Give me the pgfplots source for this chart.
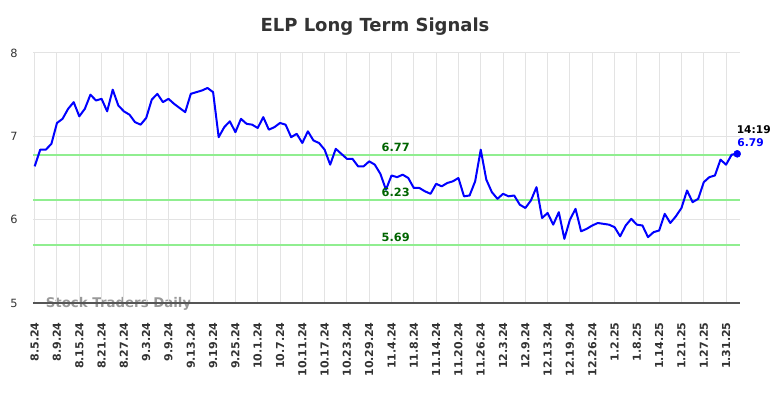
\documentclass[border=0pt]{standalone}
\usepackage{fontspec}
\setmainfont{DejaVu Sans}
\usepackage{pgfplots}
\usepackage{pgfplotstable}
\pgfplotsset{compat=1.18}
\definecolor{lvl}{HTML}{90EE90}
\definecolor{lvltext}{HTML}{006400}
\definecolor{gridc}{HTML}{E3E3E3}
\definecolor{txt}{HTML}{333333}
\definecolor{wm}{HTML}{999999}
\pgfplotstableread{
i v
0 6.64
1 6.84
2 6.84
3 6.91
4 7.16
5 7.21
6 7.33
7 7.41
8 7.24
9 7.33
10 7.50
11 7.43
12 7.45
13 7.30
14 7.56
15 7.37
16 7.30
17 7.26
18 7.17
19 7.14
20 7.22
21 7.44
22 7.51
23 7.41
24 7.45
25 7.39
26 7.34
27 7.29
28 7.51
29 7.53
30 7.55
31 7.58
32 7.53
33 6.99
34 7.11
35 7.18
36 7.05
37 7.21
38 7.15
39 7.14
40 7.10
41 7.23
42 7.08
43 7.11
44 7.16
45 7.14
46 6.99
47 7.03
48 6.92
49 7.06
50 6.95
51 6.92
52 6.84
53 6.66
54 6.85
55 6.79
56 6.73
57 6.73
58 6.64
59 6.64
60 6.70
61 6.66
62 6.55
63 6.36
64 6.53
65 6.51
66 6.54
67 6.50
68 6.38
69 6.38
70 6.34
71 6.31
72 6.43
73 6.40
74 6.44
75 6.46
76 6.50
77 6.28
78 6.29
79 6.46
80 6.84
81 6.48
82 6.33
83 6.25
84 6.31
85 6.28
86 6.29
87 6.18
88 6.14
89 6.23
90 6.39
91 6.02
92 6.08
93 5.94
94 6.09
95 5.77
96 6.00
97 6.13
98 5.86
99 5.89
100 5.93
101 5.96
102 5.95
103 5.94
104 5.91
105 5.80
106 5.93
107 6.01
108 5.94
109 5.93
110 5.79
111 5.85
112 5.87
113 6.07
114 5.96
115 6.04
116 6.14
117 6.35
118 6.21
119 6.25
120 6.45
121 6.51
122 6.53
123 6.72
124 6.66
125 6.78
126 6.79
}\prices
\begin{document}
\begin{tikzpicture}
\path[use as bounding box] (0pt,0pt) rectangle (588pt,298.5pt);
\node[font=\bfseries\fontsize{13.5}{16}\selectfont, text=txt] at (281.25pt,278.25pt) {ELP Long Term Signals};
\node[font=\bfseries\fontsize{10}{12}\selectfont, text=wm] at (88.9pt,70.8pt) {Stock Traders Daily};
\begin{axis}[
  at={(24.75pt,71.25pt)}, anchor=south west,
  scale only axis, width=530.25pt, height=187.5pt,
  xmin=-0.3, xmax=126.5, ymin=5, ymax=8,
  clip=false,
  axis line style={draw=none},
  tick style={draw=none},
  grid=major,
  grid style={gridc, line width=0.75pt},
  xtick={0,4,...,124},
  xticklabels={8.5.24,8.9.24,8.15.24,8.21.24,8.27.24,9.3.24,9.9.24,9.13.24,9.19.24,9.25.24,10.1.24,10.7.24,10.11.24,10.17.24,10.23.24,10.29.24,11.4.24,11.8.24,11.14.24,11.20.24,11.26.24,12.3.24,12.9.24,12.13.24,12.19.24,12.26.24,1.2.25,1.8.25,1.14.25,1.21.25,1.27.25,1.31.25},
  xticklabel style={rotate=90, anchor=east, font=\bfseries\fontsize{8.25}{10}\selectfont, text=txt},
  xticklabel shift=11pt,
  ytick={5,6,7,8},
  yticklabel style={font=\fontsize{8.5}{10}\selectfont, text=txt},
  yticklabel shift=8pt,
  /pgf/number format/assume math mode=true,
]
\addplot[lvl, line width=1.5pt] coordinates {(-0.3,6.77) (126.5,6.77)};
\addplot[lvl, line width=1.5pt] coordinates {(-0.3,6.23) (126.5,6.23)};
\addplot[lvl, line width=1.5pt] coordinates {(-0.3,5.69) (126.5,5.69)};
\draw[color={rgb,255:red,85;green,85;blue,85}, line width=0.9pt] (rel axis cs:0,0) -- (rel axis cs:1,0);
\addplot[blue, line width=1.5pt, line join=round] table[x=i, y=v] {\prices};
\addplot[blue, only marks, mark=*, mark size=2.6pt] coordinates {(126,6.79)};
\node[anchor=south, inner sep=0, yshift=2.6pt, font=\bfseries\fontsize{8.5}{10}\selectfont, text=lvltext] at (axis cs:64.75,6.77) {6.77};
\node[anchor=south, inner sep=0, yshift=2.6pt, font=\bfseries\fontsize{8.5}{10}\selectfont, text=lvltext] at (axis cs:64.75,6.23) {6.23};
\node[anchor=south, inner sep=0, yshift=2.6pt, font=\bfseries\fontsize{8.5}{10}\selectfont, text=lvltext] at (axis cs:64.75,5.69) {5.69};
\node[anchor=south west, inner sep=0, yshift=14.8pt, xshift=-0.5pt, font=\bfseries\fontsize{8}{10}\selectfont, text=black] at (axis cs:126,6.79) {14:19};
\node[anchor=south west, inner sep=0, yshift=5.25pt, font=\bfseries\fontsize{8}{10}\selectfont, text=blue] at (axis cs:126,6.79) {6.79};
\end{axis}
\end{tikzpicture}
\end{document}
